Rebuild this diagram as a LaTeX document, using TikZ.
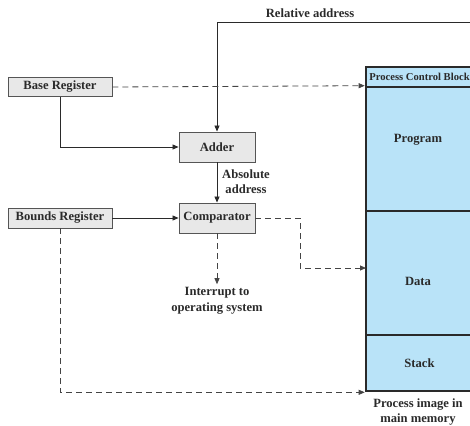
\documentclass[tikz,border=0pt]{standalone}
\usepackage{fontspec}
\setmainfont{Liberation Serif}
\usetikzlibrary{arrows.meta}
\definecolor{boxfill}{HTML}{E8E8E8}
\definecolor{boxline}{HTML}{555555}
\definecolor{memfill}{HTML}{B9E3F8}
\definecolor{lin}{HTML}{2A2A2A}
\definecolor{dlin}{HTML}{444444}
\begin{document}
\begin{tikzpicture}[x=1pt,y=-1pt,
  lbl/.style={font=\fontsize{12.6}{14}\selectfont\bfseries, text=lin},
  regbox/.style={draw=boxline, fill=boxfill, line width=0.9pt, inner sep=0pt, lbl},
  memsec/.style={draw=lin, fill=memfill, line width=2.6pt, inner sep=0pt, lbl},
  conn/.style={draw=lin, line width=0.8pt, -{Triangle[length=6pt,width=5pt]}},
  dconn/.style={conn, draw=dlin, dash pattern=on 6pt off 4pt}]
\useasboundingbox (0,0) rectangle (470,425);
\begin{scope}
\clip (0,0) rectangle (470,425);
% memory sections
\node[memsec, minimum width=107pt, minimum height=20pt, font=\fontsize{10.6}{12}\selectfont\bfseries] (pcb) at (419.5,77) {Process Control Block};
\node[memsec, minimum width=107pt, minimum height=124pt] (prog) at (419.5,149) {};
\node[memsec, minimum width=107pt, minimum height=124pt] (data) at (419.5,273) {};
\node[memsec, minimum width=107pt, minimum height=56pt] (stack) at (419.5,363) {Stack};
\node[lbl] at (418,140) {Program};
\node[lbl] at (418,281) {Data};
\coordinate (relstart) at (475,22);
\end{scope}
% registers
\node[regbox, minimum width=104pt, minimum height=19pt] (base) at (60,87) {Base Register};
\node[regbox, minimum width=104pt, minimum height=20pt] (bounds) at (60,218) {Bounds Register};
\node[regbox, minimum width=76pt, minimum height=30pt] (adder) at (217,147) {Adder};
\node[regbox, minimum width=76pt, minimum height=30pt] (comp) at (217,218) {Comparator};
% labels
\node[lbl] (rel) at (310,13) {Relative address};
\node[lbl, align=center, font=\fontsize{12.6}{15}\selectfont\bfseries] (abs) at (246,182) {Absolute\\address};
\node[lbl, align=center, font=\fontsize{12.6}{15.5}\selectfont\bfseries] (intr) at (217,301) {Interrupt to\\operating system};
\node[lbl, align=center, font=\fontsize{12.6}{15.5}\selectfont\bfseries] (pim) at (418,412) {Process image in\\main memory};
\coordinate (din) at (366,268);
% connectors
\draw[conn] (relstart) -| (adder.north);
\draw[conn] (base.south) |- (adder.west);
\draw[conn] (adder.south) -- (comp.north);
\draw[conn] (bounds.east) -- (comp.west);
\draw[dconn] (base.east) -- (prog.north west);
\draw[dconn] (comp.east) -- ++(45,0) |- (din);
\draw[dconn] (comp.south) -- (intr.north);
\draw[dconn] (bounds.south) |- (stack.south west);
\end{tikzpicture}
\end{document}
